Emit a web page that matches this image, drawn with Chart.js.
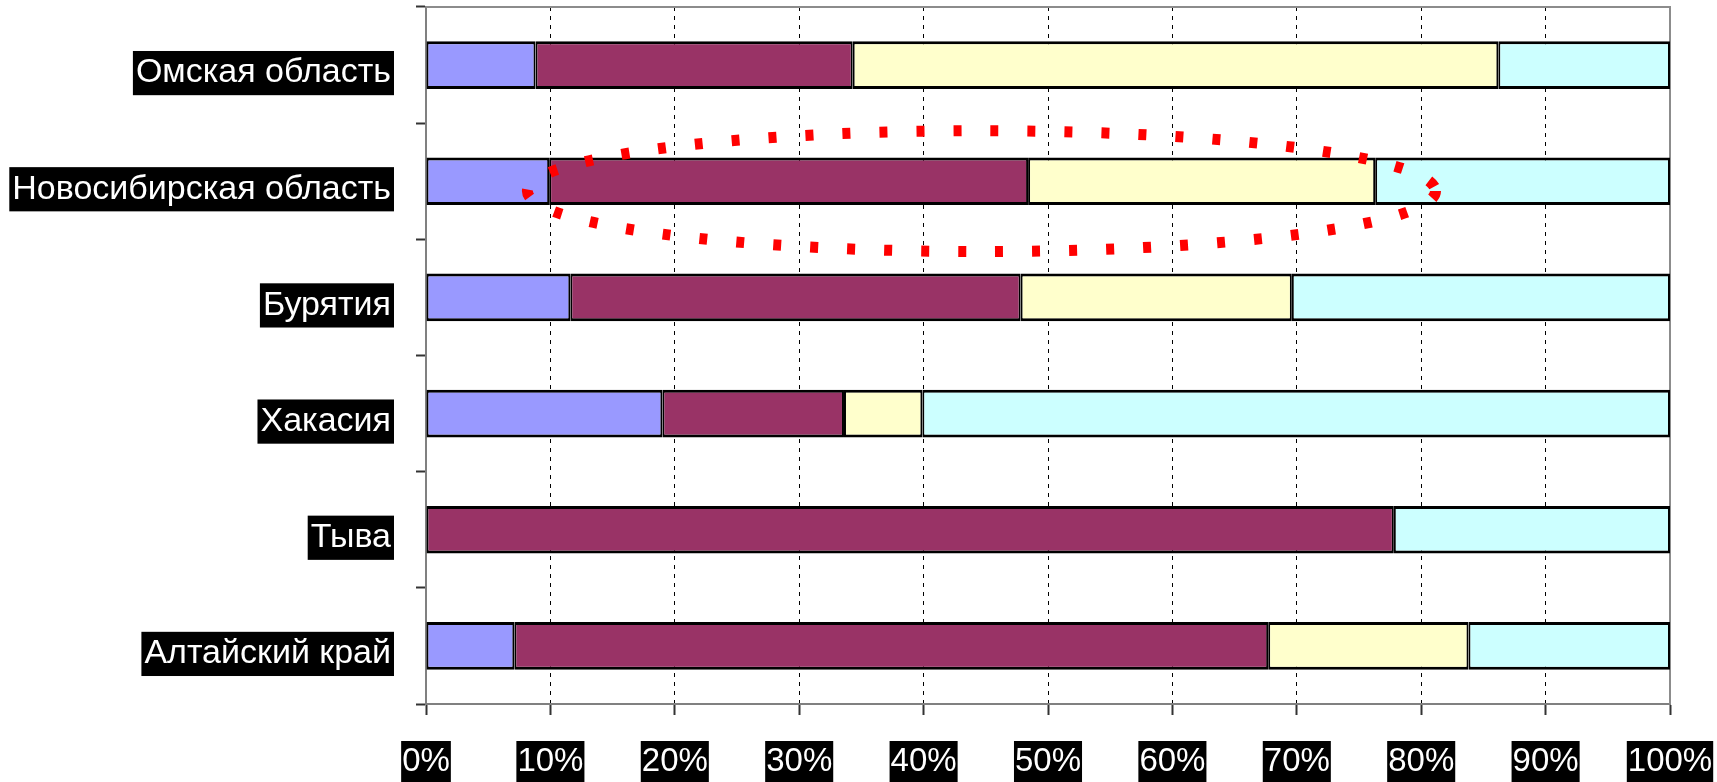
<!DOCTYPE html>
<html lang="ru">
<head>
<meta charset="utf-8">
<title>Структура по регионам</title>
<script src="https://cdn.jsdelivr.net/npm/chart.js@4/dist/chart.umd.min.js"></script>
<style>
  html, body { margin: 0; padding: 0; background: #fff; }
  canvas { display: block; }
</style>
</head>
<body>
<canvas id="grafica" width="1717" height="782"></canvas>
<script>
const regiones = ['Омская область', 'Новосибирская область', 'Бурятия', 'Хакасия', 'Тыва', 'Алтайский край'];
const serie1 = [8.8, 9.9, 11.6, 19.0, 0, 7.1];
const serie2 = [25.5, 38.5, 36.2, 14.6, 77.8, 60.6];
const serie3 = [51.9, 27.9, 21.8, 6.3, 0, 16.1];
const serie4 = [13.8, 23.7, 30.4, 60.1, 22.2, 16.2];
const ticksX = [0, 10, 20, 30, 40, 50, 60, 70, 80, 90, 100];

// выделенная область: центр (в % и номере строки) и полуоси
const elipse = { x: 44.65, fila: 1.085, rx: 36.5, ry: 0.52 };

const grafica = document.getElementById('grafica');

const borde = { top: 3, bottom: 3, left: 2, right: 2 };

function crearSerie(nombre, datos, color) {
    return {
        label: nombre,
        data: datos,
        backgroundColor: color,
        borderColor: '#000',
        borderWidth: borde,
        borderSkipped: false,
        barPercentage: 0.41,
        categoryPercentage: 1
    };
}

// без дополнительных отступов под крайние подписи
function sinRelleno(scale) {
    scale.paddingLeft = 0;
    scale.paddingRight = 0;
    scale.paddingTop = 0;
    scale.paddingBottom = 0;
}

// рамка области построения сверху и справа
const marco = {
    id: 'marco',
    beforeDatasetsDraw(chart) {
        const { ctx, chartArea: a } = chart;
        ctx.save();
        ctx.strokeStyle = '#8c8c8c';
        ctx.lineWidth = 2;
        ctx.beginPath();
        ctx.moveTo(a.left, a.top);
        ctx.lineTo(a.right, a.top);
        ctx.lineTo(a.right, a.bottom);
        ctx.stroke();
        ctx.restore();
    }
};

// красный пунктирный эллипс вокруг строки
const ovalo = {
    id: 'ovalo',
    afterDatasetsDraw(chart) {
        const { ctx, scales } = chart;
        const cx = scales.x.getPixelForValue(elipse.x);
        const cy = scales.y.getPixelForValue(elipse.fila);
        const rx = scales.x.getPixelForValue(elipse.x + elipse.rx) - cx;
        const ry = scales.y.getPixelForValue(elipse.fila + elipse.ry) - cy;
        ctx.save();
        ctx.strokeStyle = '#ff0000';
        ctx.lineWidth = 11;
        ctx.setLineDash([8, 29]);
        ctx.beginPath();
        ctx.ellipse(cx, cy, rx, Math.abs(ry), 0, 0, Math.PI * 2);
        ctx.stroke();
        ctx.restore();
    }
};

const datos = {
    labels: regiones,
    datasets: [
        crearSerie('Серия 1', serie1, '#9999ff'),
        crearSerie('Серия 2', serie2, '#993366'),
        crearSerie('Серия 3', serie3, '#ffffcc'),
        crearSerie('Серия 4', serie4, '#ccffff')
    ]
};

const configuracion = {
    type: 'bar',
    data: datos,
    options: {
        indexAxis: 'y',
        responsive: false,
        animation: false,
        layout: { padding: { top: 7, right: 47, left: 0, bottom: 0 } },
        plugins: {
            legend: { display: false },
            tooltip: { enabled: false }
        },
        scales: {
            x: {
                stacked: true,
                min: 0,
                max: 100,
                afterBuildTicks(scale) {
                    scale.ticks = ticksX.map(v => ({ value: v }));
                },
                afterFit(scale) {
                    scale.height = 78;
                    sinRelleno(scale);
                },
                grid: {
                    color: c => (c.index === 0 || c.index === ticksX.length - 1) ? 'rgba(0,0,0,0)' : '#000',
                    lineWidth: 1,
                    tickColor: '#333',
                    tickWidth: 2,
                    tickLength: 11
                },
                border: { color: '#808080', width: 2, dash: [4, 5] },
                ticks: {
                    autoSkip: false,
                    maxRotation: 0,
                    padding: 26,
                    color: '#fff',
                    showLabelBackdrop: true,
                    backdropColor: '#000',
                    backdropPadding: { x: 1, y: 0 },
                    font: { family: "'Liberation Sans Narrow', 'Arial Narrow', sans-serif", size: 33, lineHeight: 1.25 },
                    callback: v => v + '%'
                }
            },
            y: {
                stacked: true,
                afterFit(scale) {
                    scale.width = 426;
                    sinRelleno(scale);
                },
                grid: {
                    drawOnChartArea: false,
                    tickColor: '#333',
                    tickWidth: 2,
                    tickLength: 10
                },
                border: { color: '#808080', width: 2 },
                ticks: {
                    autoSkip: false,
                    padding: 25,
                    labelOffset: 8,
                    color: '#fff',
                    showLabelBackdrop: true,
                    backdropColor: '#000',
                    backdropPadding: { x: 3, y: 0 },
                    font: { family: "'Liberation Sans', Arial, sans-serif", size: 34, lineHeight: 1.3 }
                }
            }
        }
    },
    plugins: [marco, ovalo]
};

new Chart(grafica, configuracion);
</script>
</body>
</html>
